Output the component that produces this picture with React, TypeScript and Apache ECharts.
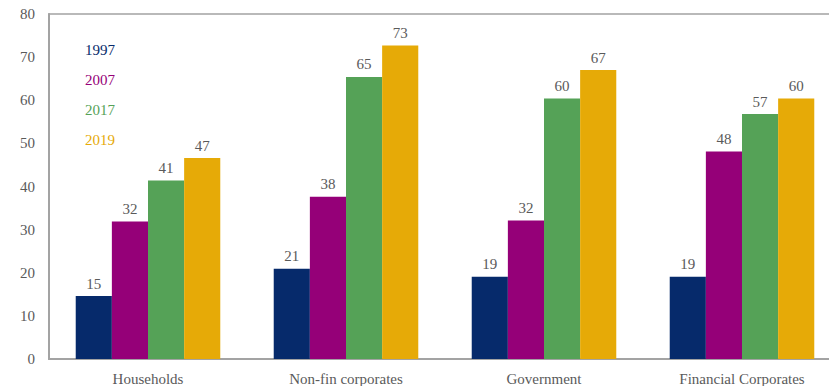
import React, { useEffect, useRef } from "react";
import * as echarts from "echarts";

const categories = ["Households", "Non-fin corporates", "Government", "Financial Corporates"];
const years = ["1997", "2007", "2017", "2019"];
const values1997 = [14.6, 20.9, 19.1, 19.1];
const values2007 = [31.9, 37.6, 32.1, 48.1];
const values2017 = [41.4, 65.4, 60.4, 56.8];
const values2019 = [46.6, 72.7, 67.0, 60.4];
const yTicks = [0, 10, 20, 30, 40, 50, 60, 70, 80];
const colors = ["#062A6B", "#950078", "#55A257", "#E6AA07"];

const FONT = "'Liberation Serif', 'DejaVu Serif', serif";
const TEXT = "#5A5A5A";

export default function App() {
  const ref = useRef<HTMLDivElement>(null);
  useEffect(() => {
    if (!ref.current) return;
    const chart = echarts.init(ref.current, undefined, { renderer: "svg" });
    const seriesData = [values1997, values2007, values2017, values2019];
    chart.setOption({
      animation: false,
      backgroundColor: "#ffffff",
      textStyle: { fontFamily: FONT },
      legend: {
        orient: "vertical",
        left: 75,
        top: 37,
        itemWidth: 0,
        itemHeight: 15,
        itemGap: 15,
        icon: "none",
        selectedMode: false,
        data: years.map((y, i) => ({
          name: y,
          textStyle: { color: colors[i], fontSize: 15, fontFamily: FONT },
        })),
      },
      grid: {
        left: 49,
        right: 0,
        top: 14,
        bottom: 27,
        show: true,
        borderColor: "#A3A3A3",
        borderWidth: 1.5,
        containLabel: false,
      },
      xAxis: {
        type: "category",
        data: categories,
        axisLine: { show: true, lineStyle: { color: "#A3A3A3", width: 2 } },
        axisTick: { show: false },
        axisLabel: { color: TEXT, fontSize: 15, fontFamily: FONT, margin: 12 },
      },
      yAxis: {
        type: "value",
        min: yTicks[0],
        max: yTicks[yTicks.length - 1],
        interval: 10,
        splitLine: { show: false },
        axisLine: { show: true, lineStyle: { color: "#A3A3A3", width: 2 } },
        axisTick: { show: false },
        axisLabel: { color: TEXT, fontSize: 15, fontFamily: FONT, margin: 14 },
      },
      series: years.map((y, i) => ({
        name: y,
        type: "bar",
        data: seriesData[i],
        barGap: "0%",
        barCategoryGap: "27%",
        itemStyle: { color: colors[i] },
        label: {
          show: true,
          position: "top",
          distance: 5,
          color: TEXT,
          fontSize: 15,
          fontFamily: FONT,
          formatter: (p: any) => String(Math.round(p.value)),
        },
      })),
    });
    return () => chart.dispose();
  }, []);
  return (
    <div
      ref={ref}
      style={{ position: "fixed", left: 0, top: 0, width: 841, height: 386 }}
    />
  );
}
